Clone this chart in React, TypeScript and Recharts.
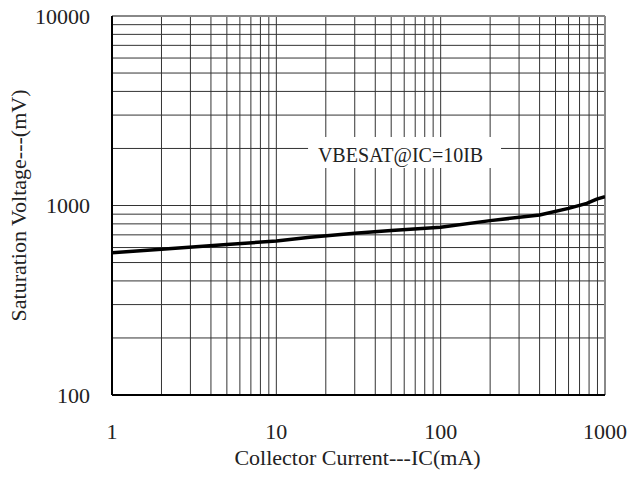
import React from 'react';
import { LineChart, Line, XAxis, YAxis, CartesianGrid, ReferenceLine, ReferenceArea } from 'recharts';

const currents = [1, 2, 5, 10, 16, 30, 50, 100, 200, 400, 600, 775, 890, 1000];
const voltages = [564, 588, 622, 650, 679, 713, 737, 767, 832, 891, 966, 1026, 1081, 1112];

const xTicks = [1, 2, 3, 4, 5, 6, 7, 8, 9, 10, 20, 30, 40, 50, 60, 70, 80, 90, 100, 200, 300, 400, 500, 600, 700, 800, 900, 1000];
const yTicks = [100, 200, 300, 400, 500, 600, 700, 800, 900, 1000, 2000, 3000, 4000, 5000, 6000, 7000, 8000, 9000, 10000];
const xLabels = [1, 10, 100, 1000];
const yLabels = [100, 1000, 10000];

const seriesName = 'VBESAT@IC=10IB';
const xTitle = 'Collector Current---IC(mA)';
const yTitle = 'Saturation Voltage---(mV)';

const data = currents.map((ic, i) => ({ ic, v: voltages[i] }));

const FONT = '"Liberation Serif", "Times New Roman", serif';

const XTick = (props: any) => {
  const { x, y, payload } = props;
  if (!xLabels.includes(payload.value)) return <g />;
  return (
    <text x={x} y={y + 36} textAnchor="middle" fontFamily={FONT} fontSize={22} fill="#222">
      {payload.value}
    </text>
  );
};

const YTick = (props: any) => {
  const { x, y, payload } = props;
  if (!yLabels.includes(payload.value)) return <g />;
  return (
    <text x={x - 14} y={y} dy="0.35em" textAnchor="end" fontFamily={FONT} fontSize={22} fill="#222">
      {payload.value}
    </text>
  );
};

export default function App() {
  return (
    <div style={{ position: 'absolute', left: 0, top: 0, width: 630, height: 477, background: '#fff' }}>
      <LineChart width={630} height={477} data={data} margin={{ top: 16, right: 25, bottom: 0, left: 0 }}>
        <CartesianGrid stroke="#333" strokeWidth={1} />
        <XAxis
          dataKey="ic"
          type="number"
          scale="log"
          domain={[1, 1000]}
          ticks={xTicks}
          interval={0}
          allowDataOverflow
          tick={<XTick />}
          tickLine={false}
          axisLine={{ stroke: '#000', strokeWidth: 2 }}
          height={82}
          label={{
            content: (p: any) => {
              const vb = p.viewBox;
              return (
                <text x={vb.x + vb.width / 2 - 1} y={vb.y + vb.height - 12} textAnchor="middle" fontFamily={FONT} fontSize={22} fill="#222">
                  {xTitle}
                </text>
              );
            },
          }}
        />
        <YAxis
          dataKey="v"
          type="number"
          scale="log"
          domain={[100, 10000]}
          ticks={yTicks}
          interval={0}
          allowDataOverflow
          tick={<YTick />}
          tickLine={false}
          axisLine={{ stroke: '#000', strokeWidth: 2 }}
          width={112}
          label={{
            content: (p: any) => {
              const vb = p.viewBox;
              const cx = 18;
              const cy = vb.y + vb.height / 2;
              return (
                <text x={cx} y={cy} transform={`rotate(-90 ${cx} ${cy})`} textAnchor="middle" dominantBaseline="central" fontFamily={FONT} fontSize={22} fill="#222">
                  {yTitle}
                </text>
              );
            },
          }}
        />
        <ReferenceLine y={10000} stroke="#888" strokeWidth={2} />
        <ReferenceLine x={1000} stroke="#888" strokeWidth={2} />
        <ReferenceArea
          x1={15.6}
          x2={233}
          y1={1578}
          y2={2299}
          fill="#fff"
          fillOpacity={1}
          stroke="none"
          label={{
            content: (p: any) => {
              const vb = p.viewBox;
              return (
                <text x={vb.x + vb.width / 2 - 4} y={vb.y + vb.height / 2 + 10} textAnchor="middle" fontFamily={FONT} fontSize={20} fill="#222">
                  {seriesName}
                </text>
              );
            },
          }}
        />
        <Line type="linear" dataKey="v" stroke="#000" strokeWidth={3.5} dot={false} isAnimationActive={false} />
      </LineChart>
    </div>
  );
}
